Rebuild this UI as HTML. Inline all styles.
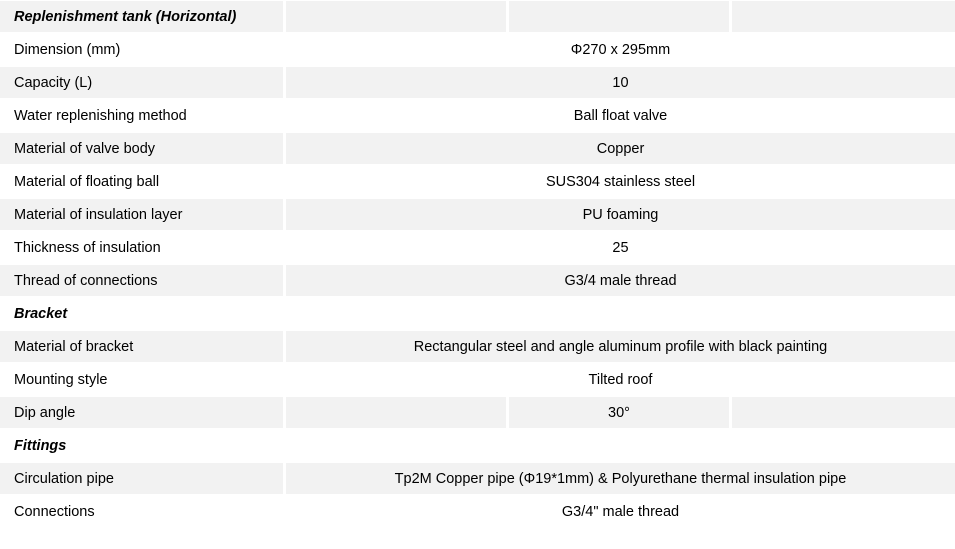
<!DOCTYPE html>
<html><head><style>
body{margin:0;width:955px;height:549px;background:#fff;font-family:"Liberation Sans",Arial,sans-serif;font-size:14.5px;color:#000;position:relative;overflow:hidden}
.r{position:absolute;left:0;width:955px;height:31px}
.c{position:absolute;top:0;height:31px;line-height:32px;box-sizing:border-box}
.g .c{background:#f2f2f2}
.l{left:0;width:283px;padding-left:14px}
.v{left:286px;width:669px;text-align:center}
.b{font-weight:bold;font-style:italic}
</style></head><body>
<div class="r g" style="top:1px"><div class="c l b">Replenishment tank (Horizontal)</div><div class="c" style="left:286px;width:220px"></div><div class="c" style="left:509px;width:220px"></div><div class="c" style="left:732px;width:223px"></div></div>
<div class="r" style="top:34px"><div class="c l">Dimension (mm)</div><div class="c v">Φ270 x 295mm</div></div>
<div class="r g" style="top:67px"><div class="c l">Capacity (L)</div><div class="c v">10</div></div>
<div class="r" style="top:100px"><div class="c l">Water replenishing method</div><div class="c v">Ball float valve</div></div>
<div class="r g" style="top:133px"><div class="c l">Material of valve body</div><div class="c v">Copper</div></div>
<div class="r" style="top:166px"><div class="c l">Material of floating ball</div><div class="c v">SUS304 stainless steel</div></div>
<div class="r g" style="top:199px"><div class="c l">Material of insulation layer</div><div class="c v">PU foaming</div></div>
<div class="r" style="top:232px"><div class="c l">Thickness of insulation</div><div class="c v">25</div></div>
<div class="r g" style="top:265px"><div class="c l">Thread of connections</div><div class="c v">G3/4 male thread</div></div>
<div class="r" style="top:298px"><div class="c l b">Bracket</div></div>
<div class="r g" style="top:331px"><div class="c l">Material of bracket</div><div class="c v">Rectangular steel and angle aluminum profile with black painting</div></div>
<div class="r" style="top:364px"><div class="c l">Mounting style</div><div class="c v">Tilted roof</div></div>
<div class="r g" style="top:397px"><div class="c l">Dip angle</div><div class="c" style="left:286px;width:220px"></div><div class="c" style="left:509px;width:220px;text-align:center">30°</div><div class="c" style="left:732px;width:223px"></div></div>
<div class="r" style="top:430px"><div class="c l b">Fittings</div></div>
<div class="r g" style="top:463px"><div class="c l">Circulation pipe</div><div class="c v">Tp2M Copper pipe (Φ19*1mm) &amp; Polyurethane thermal insulation pipe</div></div>
<div class="r" style="top:496px"><div class="c l">Connections</div><div class="c v">G3/4" male thread</div></div>
</body></html>
